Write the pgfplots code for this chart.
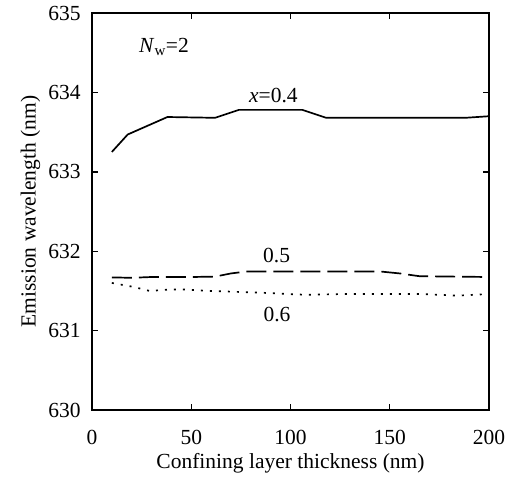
\documentclass[border=0pt]{standalone}
\usepackage{fontspec}
\setmainfont{Liberation Serif}
\usepackage{pgfplots}
\pgfplotsset{compat=1.18}

\begin{document}
\fontsize{21.5bp}{25bp}\selectfont
\begin{tikzpicture}
% overall frame of the figure
\path[use as bounding box] (-92bp,-69bp) rectangle (422bp,410bp);
\begin{axis}[
  at={(0,0)}, anchor=south west,
  scale only axis,
  width=397bp, height=397bp,
  xmin=0, xmax=200, ymin=630, ymax=635,
  xtick={0,50,100,150,200},
  ytick={630,631,632,633,634,635},
  xtick pos=both, ytick pos=both,
  tick align=inside,
  major tick length=6bp,
  minor tick num=0,
  axis line style={line width=1.8bp},
  every tick/.style={line width=1.4bp, black},
  /pgf/number format/assume math mode=true,
  /pgf/number format/1000 sep={},
  tick label style={font=\fontsize{21.5bp}{25bp}\selectfont},
  xticklabel style={yshift=-13bp},
  yticklabel style={xshift=-4bp},
  label style={font=\fontsize{21.5bp}{25bp}\selectfont},
  xlabel={Confining layer thickness (nm)},
  ylabel={Emission wavelength (nm)},
  xlabel style={at={(axis description cs:0.5,0)}, anchor=base, yshift=-58bp},
  ylabel style={at={(axis description cs:-0.155,0.5)}, anchor=center},
  clip=false,
]
% x = 0.4
\addplot[black, line width=1.7bp] coordinates {
  (10,633.25) (18,633.47) (38,633.69) (62,633.68) (74,633.78)
  (106,633.78) (118,633.68) (188,633.68) (200,633.70)
};
% x = 0.5
\addplot[black, line width=1.7bp, dash pattern=on 20bp off 7bp] coordinates {
  (10,631.67) (20,631.665) (30,631.675) (50,631.675) (62,631.68)
  (70,631.72) (78,631.745) (145,631.745) (155,631.72) (165,631.685)
  (200,631.675)
};
% x = 0.6
\addplot[black, line width=1.7bp, dash pattern=on 2bp off 7bp] coordinates {
  (10,631.60) (21,631.55) (29,631.50) (38,631.515) (45,631.52)
  (58,631.50) (83,631.48) (108,631.45) (125,631.46) (167,631.46)
  (184,631.44) (199,631.46)
};
\node[anchor=base west, inner sep=0pt] at (axis cs:23.7,634.50) {\textit{N}\textsubscript{w}=2};
\node[anchor=base, inner sep=0pt] at (axis cs:91.4,633.87) {\textit{x}=0.4};
\node[anchor=base, inner sep=0pt] at (axis cs:93,631.86) {0.5};
\node[anchor=base, inner sep=0pt] at (axis cs:93.2,631.11) {0.6};
\end{axis}
\end{tikzpicture}
\end{document}
